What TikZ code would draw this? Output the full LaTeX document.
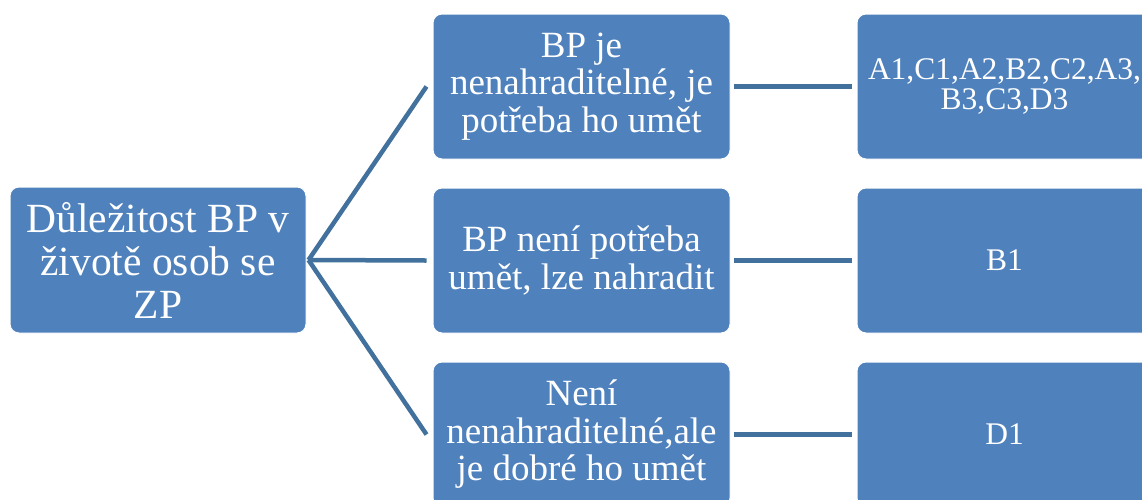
\documentclass[tikz,border=0pt]{standalone}
\usepackage{fontspec}
\setmainfont{Liberation Serif}
\definecolor{boxblue}{HTML}{4F81BD}
\definecolor{linkblue}{HTML}{41719C}
\tikzset{
    box/.style={draw=white, line width=1pt, fill=boxblue, rounded corners=9pt, text=white, align=center, inner sep=0pt},
    rootbox/.style={box, minimum width=296pt, minimum height=146pt, font=\fontsize{41.5}{43}\selectfont},
    midbox/.style={box, minimum width=297pt, minimum height=145pt, font=\fontsize{37}{37.5}\selectfont},
    resbox/.style={box, minimum width=295pt, minimum height=145pt, font=\fontsize{31.5}{30.5}\selectfont},
    link/.style={draw=linkblue, line width=4.5pt}
}

\begin{document}
\begin{tikzpicture}[x=1pt, y=-1pt]
    \useasboundingbox (0, 0) rectangle (1142, 499);
    \clip (0, 0) rectangle (1142, 499);
    \node[rootbox] (root) at (158, 260) {Důležitost BP v\\ životě osob se\\ ZP};
    \node[midbox] (mid1) at (581.5, 86.5) {BP je\\ nenahraditelné, je\\ potřeba ho umět};
    \node[midbox] (mid2) at (581.5, 260.5) {BP není potřeba\\ umět, lze nahradit};
    \node[midbox] (mid3) at (581.5, 434.5) {Není\\ nenahraditelné,ale\\ je dobré ho umět};
    \node[resbox] (res1) at (1004.5, 86.5) {A1,C1,A2,B2,C2,A3,\\ B3,C3,D3};
    \node[resbox] (res2) at (1004.5, 260.5) {B1};
    \node[resbox] (res3) at (1004.5, 434.5) {D1};
    \coordinate (fan) at ([xshift=2pt]root.east);
    \draw[link] (fan) -- ([xshift=-6pt]mid1.west);
    \draw[link] (fan) -- ([xshift=-6pt]mid2.west);
    \draw[link] (fan) -- ([xshift=-6pt]mid3.west);
    \draw[link] ([xshift=3pt]mid1.east) -- ([xshift=-5pt]res1.west);
    \draw[link] ([xshift=3pt]mid2.east) -- ([xshift=-5pt]res2.west);
    \draw[link] ([xshift=3pt]mid3.east) -- ([xshift=-5pt]res3.west);
\end{tikzpicture}
\end{document}
